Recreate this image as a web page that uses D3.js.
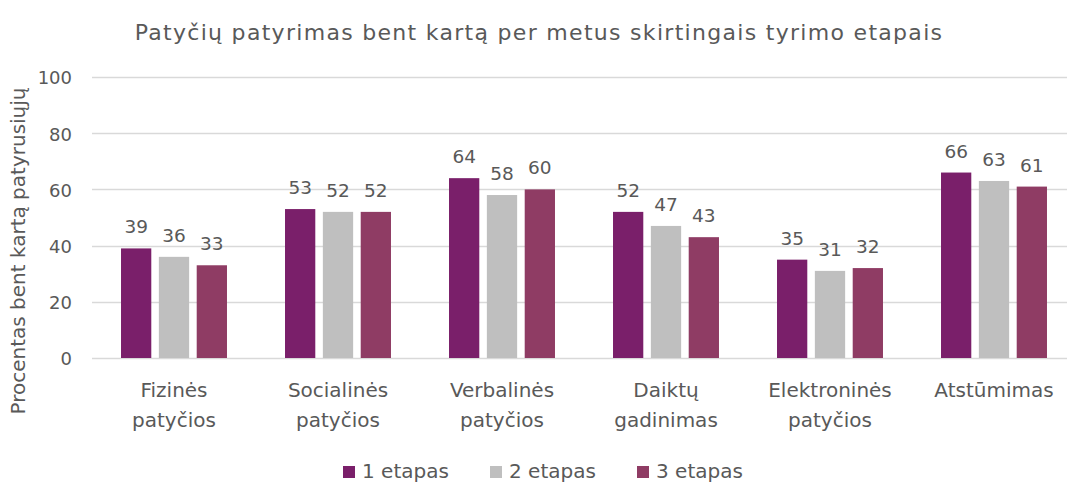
<!DOCTYPE html>
<html lang="lt">
<head>
<meta charset="UTF-8">
<title>Patyčių patyrimas</title>
<script src="https://d3js.org/d3.v7.min.js"></script>
<style>
  body { margin: 0; background: #fff; }
  text { font-family: "DejaVu Sans", sans-serif; fill: #595959; }
</style>
</head>
<body>
<div id="chart"></div>
<script>
"use strict";

const categories = [
    ['Fizinės', 'patyčios'],
    ['Socialinės', 'patyčios'],
    ['Verbalinės', 'patyčios'],
    ['Daiktų', 'gadinimas'],
    ['Elektroninės', 'patyčios'],
    ['Atstūmimas']
];
const seriesNames = ['1 etapas', '2 etapas', '3 etapas'];
const etapas1 = [39, 53, 64, 52, 35, 66];
const etapas2 = [36, 52, 58, 47, 31, 63];
const etapas3 = [33, 52, 60, 43, 32, 61];
const yTicks = [0, 20, 40, 60, 80, 100];
const colours = ['#7a1f6a', '#bfbfbf', '#8f3c64'];

const svgWidth = 1067, svgHeight = 486;
const margin = {top: 77, right: -9, bottom: 128, left: 92};
const width = svgWidth - margin.left - margin.right;
const height = svgHeight - margin.top - margin.bottom;

const allSeries = [etapas1, etapas2, etapas3];
const catIdx = categories.map((d, i) => i);

const svg = d3.select('#chart').append('svg')
    .attr('width', svgWidth)
    .attr('height', svgHeight);

const g = svg.append('g')
    .attr('transform', 'translate(' + margin.left + ',' + margin.top + ')');

const x0 = d3.scaleBand().domain(catIdx).range([0, width]);
const x1 = d3.scaleBand().domain([0, 1, 2]).range([0, 109]).paddingInner(0.2).paddingOuter(0.04);
const y = d3.scaleLinear().domain([0, 100]).range([height, 0]);

// grid
g.append('g').selectAll('line')
    .data(yTicks)
    .join('line')
    .attr('x1', 0)
    .attr('x2', svgWidth - margin.left)
    .attr('y1', d => Math.round(y(d)) + 0.5)
    .attr('y2', d => Math.round(y(d)) + 0.5)
    .attr('stroke', '#d9d9d9')
    .attr('stroke-width', 1.3);

// y tick labels
const yAxis = g.append('g')
    .attr('transform', 'translate(-20,0)')
    .call(d3.axisLeft(y).tickValues(yTicks).tickSize(0).tickPadding(0));
yAxis.select('.domain').remove();
yAxis.selectAll('text')
    .attr('font-size', 18)
    .attr('fill', '#595959')
    .attr('dy', '0.38em')
    .style('font-family', '"DejaVu Sans", sans-serif');

// bars
const groups = g.selectAll('.grp')
    .data(catIdx)
    .join('g')
    .attr('class', 'grp')
    .attr('transform', i => 'translate(' + (x0(i) + (x0.bandwidth() - 109) / 2) + ',0)');

groups.selectAll('rect')
    .data(i => allSeries.map((s, k) => ({k: k, v: s[i]})))
    .join('rect')
    .attr('x', d => x1(d.k))
    .attr('y', d => y(d.v))
    .attr('width', x1.bandwidth())
    .attr('height', d => height - y(d.v))
    .attr('fill', d => colours[d.k]);

groups.selectAll('.lbl')
    .data(i => allSeries.map((s, k) => ({k: k, v: s[i]})))
    .join('text')
    .attr('class', 'lbl')
    .attr('x', d => x1(d.k) + x1.bandwidth() / 2)
    .attr('y', d => y(d.v) - 15)
    .attr('text-anchor', 'middle')
    .attr('font-size', 18.5)
    .text(d => d.v);

// category labels
const catLabels = g.selectAll('.cat')
    .data(catIdx)
    .join('text')
    .attr('class', 'cat')
    .attr('text-anchor', 'middle')
    .attr('font-size', 20)
    .attr('transform', i => 'translate(' + (x0(i) + x0.bandwidth() / 2) + ',' + (height + 39) + ')');
catLabels.selectAll('tspan')
    .data(i => categories[i])
    .join('tspan')
    .attr('x', 0)
    .attr('dy', (d, j) => j === 0 ? 0 : 30)
    .text(d => d);

// title
svg.append('text')
    .attr('x', 539)
    .attr('y', 40)
    .attr('text-anchor', 'middle')
    .attr('font-size', 22)
    .attr('letter-spacing', 1.3)
    .text('Patyčių patyrimas bent kartą per metus skirtingais tyrimo etapais');

// y axis title
svg.append('text')
    .attr('transform', 'translate(25,251) rotate(-90)')
    .attr('text-anchor', 'middle')
    .attr('font-size', 20)
    .text('Procentas bent kartą patyrusiųjų');

// legend
const legendX = [343, 490, 637];
const legend = svg.selectAll('.leg')
    .data(seriesNames)
    .join('g')
    .attr('class', 'leg')
    .attr('transform', (d, i) => 'translate(' + legendX[i] + ',466)');
legend.append('rect')
    .attr('width', 12)
    .attr('height', 12)
    .attr('fill', (d, i) => colours[i]);
legend.append('text')
    .attr('x', 19)
    .attr('y', 12)
    .attr('font-size', 20)
    .text(d => d);
</script>
</body>
</html>
